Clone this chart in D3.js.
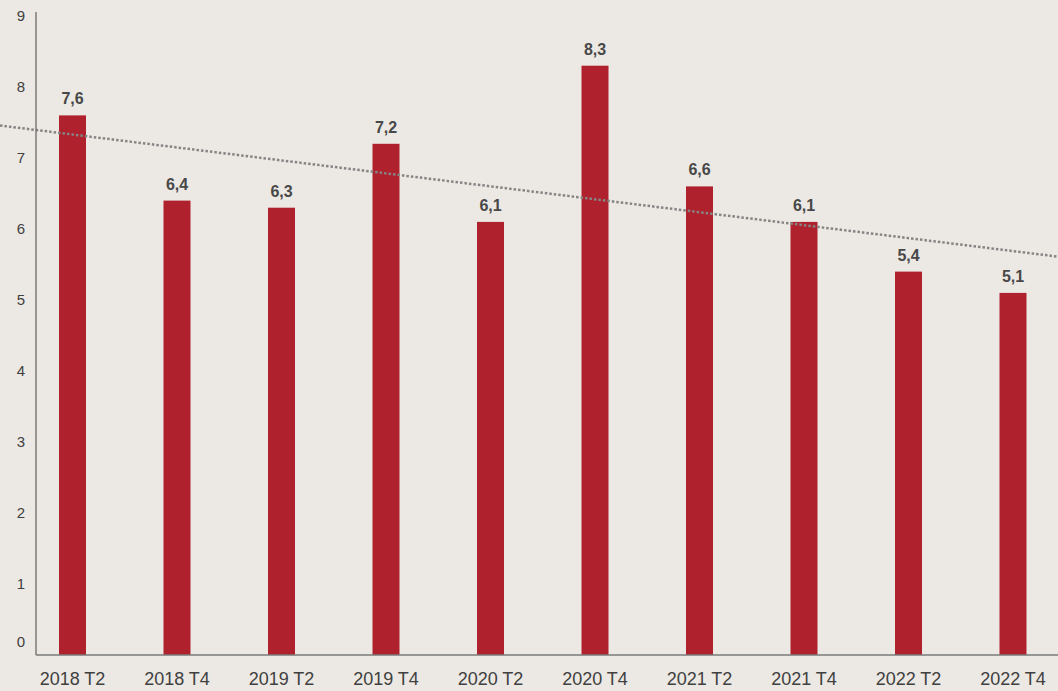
<!DOCTYPE html>
<html>
<head>
<meta charset="utf-8">
<script src="https://cdn.jsdelivr.net/npm/d3@7"></script>
<style>
  html, body { margin: 0; padding: 0; background: #ECE9E4; }
  svg { display: block; font-family: "Liberation Sans", Arial, sans-serif; }
</style>
</head>
<body>
<svg id="chart" width="1058" height="691"></svg>
<script>
// Quarterly values
const categories = ["2018 T2", "2018 T4", "2019 T2", "2019 T4", "2020 T2",
                    "2020 T4", "2021 T2", "2021 T4", "2022 T2", "2022 T4"];
const values = [7.6, 6.4, 6.3, 7.2, 6.1, 8.3, 6.6, 6.1, 5.4, 5.1];
const yTicks = [0, 1, 2, 3, 4, 5, 6, 7, 8, 9];

const W = 1058, H = 691;
const axisX = 36, baseY = 655;
const svg = d3.select("#chart");

svg.append("rect").attr("width", W).attr("height", H).attr("fill", "#ECE9E4");

const x = d3.scalePoint().domain(categories).range([72.5, 1013]);
const y = d3.scaleLinear().domain([0, 9]).range([baseY, 16]);
const barW = 27;
const fmt = v => d3.format(".1f")(v).replace(".", ",");

// Linear trend (least squares on category index)
const n = values.length;
const mx = d3.mean(d3.range(n)), my = d3.mean(values);
const sxy = d3.sum(values, (v, i) => (i - mx) * (v - my));
const sxx = d3.sum(d3.range(n), i => (i - mx) * (i - mx));
const slope = sxy / sxx, icpt = my - slope * mx;
const step = x.step();
const idxToPx = i => x(categories[0]) + i * step;

// Bars
svg.append("g").selectAll("rect").data(values).join("rect")
  .attr("x", (d, i) => x(categories[i]) - barW / 2)
  .attr("y", d => y(d))
  .attr("width", barW)
  .attr("height", d => baseY - y(d))
  .attr("fill", "#B0212E");

// Trend line
const i0 = (0 - x(categories[0])) / step, i1 = (W - x(categories[0])) / step;
svg.append("line")
  .attr("x1", idxToPx(i0)).attr("y1", y(icpt + slope * i0))
  .attr("x2", idxToPx(i1)).attr("y2", y(icpt + slope * i1))
  .attr("stroke", "#858585")
  .attr("stroke-width", 2.5)
  .attr("stroke-dasharray", "2.5,2");

// Value labels
svg.append("g").selectAll("text").data(values).join("text")
  .attr("x", (d, i) => x(categories[i]))
  .attr("y", d => y(d) - 11)
  .attr("text-anchor", "middle")
  .attr("font-size", 16)
  .attr("font-weight", "bold")
  .attr("fill", "#484848")
  .text(d => fmt(d));

// Axes lines
svg.append("line").attr("x1", axisX).attr("x2", axisX).attr("y1", 12).attr("y2", baseY)
  .attr("stroke", "#7A7A7A").attr("stroke-width", 1.5);
svg.append("line").attr("x1", axisX).attr("x2", W).attr("y1", baseY).attr("y2", baseY)
  .attr("stroke", "#7A7A7A").attr("stroke-width", 1.5);

// Y tick labels
svg.append("g").selectAll("text").data(yTicks).join("text")
  .attr("x", 25)
  .attr("y", d => y(d) - (d === 0 ? 13 : 0))
  .attr("dy", "0.35em")
  .attr("text-anchor", "end")
  .attr("font-size", 15)
  .attr("fill", "#404040")
  .text(d => d);

// X category labels
svg.append("g").selectAll("text").data(categories).join("text")
  .attr("x", d => x(d))
  .attr("y", 685)
  .attr("text-anchor", "middle")
  .attr("font-size", 18)
  .attr("fill", "#404040")
  .text(d => d);
</script>
</body>
</html>
